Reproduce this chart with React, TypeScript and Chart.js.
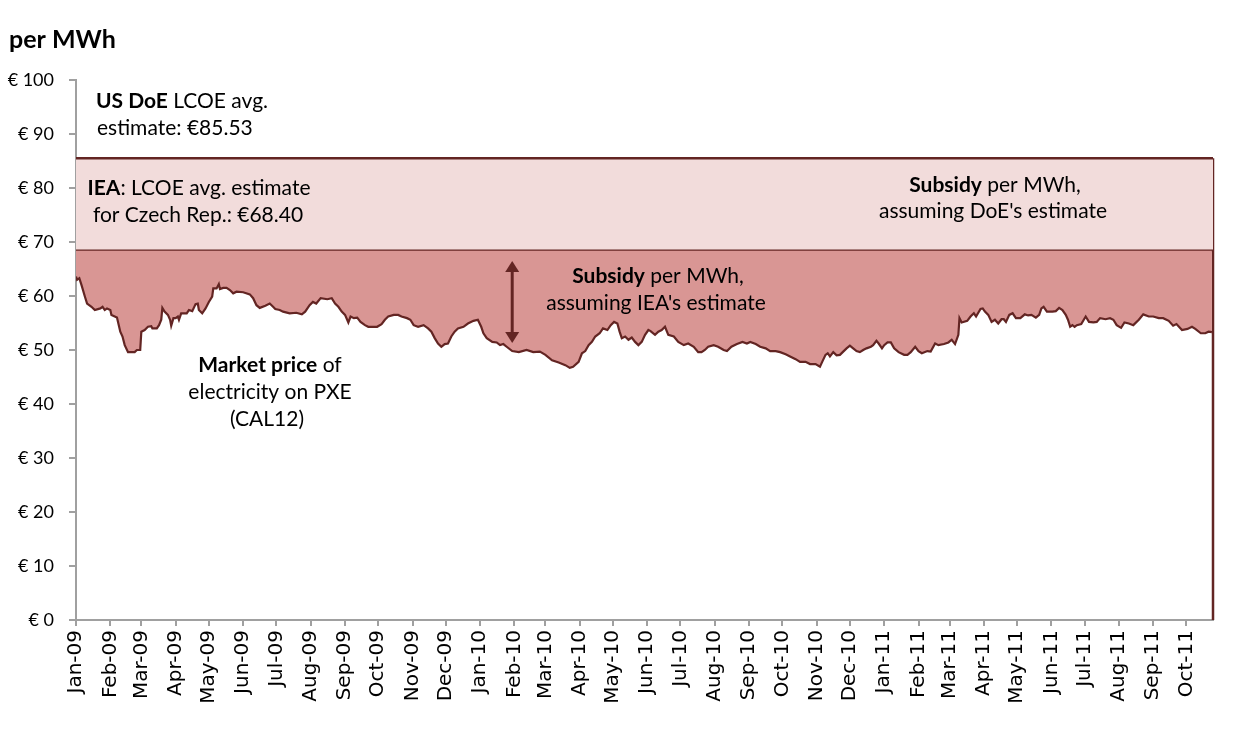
import React, { useEffect, useRef } from "react";
import { Chart, registerables } from "chart.js";

Chart.register(...registerables);

// ---------- data ----------
const monthLabels = [
  "Jan-09", "Feb-09", "Mar-09", "Apr-09", "May-09", "Jun-09", "Jul-09", "Aug-09", "Sep-09", "Oct-09", "Nov-09", "Dec-09",
  "Jan-10", "Feb-10", "Mar-10", "Apr-10", "May-10", "Jun-10", "Jul-10", "Aug-10", "Sep-10", "Oct-10", "Nov-10", "Dec-10",
  "Jan-11", "Feb-11", "Mar-11", "Apr-11", "May-11", "Jun-11", "Jul-11", "Aug-11", "Sep-11", "Oct-11",
];

// days since 1 Jan 2009
const priceDays = [
  0, 1, 3, 5, 8, 10, 14, 17, 22, 24, 26, 28, 31, 32, 37, 40, 42, 44, 47, 53, 55, 58, 59, 62, 65, 68, 69, 73, 75, 77, 78, 80,
  83, 85, 86, 88, 90, 92, 93, 95, 97, 100, 102, 105, 108, 110, 111, 114, 117, 120, 123, 124, 127, 129, 130, 133, 136, 139,
  142, 145, 151, 157, 160, 163, 166, 171, 175, 178, 180, 184, 187, 193, 199, 204, 207, 211, 214, 217, 221, 227, 231, 234,
  237, 240, 243, 246, 248, 251, 254, 257, 261, 264, 272, 276, 279, 282, 287, 291, 294, 299, 302, 305, 309, 314, 318, 321,
  324, 327, 330, 333, 336, 339, 342, 345, 350, 354, 359, 363, 366, 368, 371, 376, 380, 383, 386, 389, 394, 400, 407, 413,
  419, 424, 430, 436, 442, 446, 449, 454, 457, 460, 463, 466, 469, 473, 476, 480, 483, 486, 489, 491, 493, 496, 499, 502,
  505, 508, 511, 514, 517, 519, 523, 526, 529, 532, 535, 540, 544, 549, 553, 558, 562, 565, 568, 571, 576, 580, 585, 588,
  592, 597, 602, 606, 609, 614, 618, 623, 627, 632, 636, 641, 645, 650, 654, 659, 663, 668, 672, 674, 677, 679, 681, 684,
  687, 690, 693, 696, 699, 702, 705, 708, 711, 714, 718, 720, 723, 725, 728, 730, 733, 736, 739, 743, 748, 751, 754, 758,
  761, 764, 769, 772, 776, 779, 784, 788, 791, 794, 797, 798, 800, 805, 808, 811, 813, 817, 819, 821, 824, 827, 830, 833,
  836, 838, 840, 843, 846, 849, 853, 857, 860, 863, 867, 870, 872, 874, 877, 882, 885, 888, 891, 894, 896, 898, 900, 902,
  904, 908, 912, 915, 919, 922, 925, 930, 934, 937, 940, 944, 947, 951, 955, 960, 964, 969, 973, 978, 982, 987, 991, 994,
  999, 1004, 1008, 1011, 1016, 1020, 1023, 1026,
];

// market price of electricity on PXE (CAL12), EUR per MWh
const prices = [
  63.6, 63.0, 63.3, 62.0, 59.9, 58.6, 58.0, 57.4, 57.7, 58.0, 57.4, 57.7, 57.4, 56.5, 56.0, 53.4, 52.5, 50.9, 49.6, 49.6, 50.0, 50.0, 53.4, 53.7, 54.3, 54.4, 54.0, 54.0, 54.6, 55.6, 57.8, 57.1,
  56.5, 55.6, 54.5, 55.9, 55.9, 56.2, 55.6, 56.8, 56.8, 56.8, 57.4, 57.2, 58.5, 58.6, 57.4, 56.8, 57.7, 58.9, 59.9, 61.4, 61.4, 62.2, 61.3, 61.5, 61.5, 61.1,
  60.5, 60.8, 60.7, 60.3, 59.6, 58.3, 57.8, 58.2, 58.6, 58.0, 57.6, 57.4, 57.1, 56.8, 56.9, 56.6, 57.1, 58.3, 58.9, 58.6, 59.6, 59.4, 59.6, 58.6,
  58.0, 57.1, 56.5, 55.1, 56.2, 55.9, 56.0, 55.2, 54.6, 54.3, 54.3, 54.8, 55.6, 56.2, 56.5, 56.5, 56.2, 55.9, 55.6, 54.6, 54.3, 54.6, 54.0, 53.4,
  52.2, 51.2, 50.6, 51.1, 51.2, 52.5, 53.4, 54.0, 54.3, 54.9, 55.4, 55.6, 54.3, 53.1, 52.2, 51.5, 51.4, 50.9, 51.1, 50.6, 49.8, 49.6, 50.0, 49.6,
  49.7, 49.1, 48.1, 47.7, 47.2, 46.7, 46.9, 47.8, 49.4, 49.8, 50.9, 51.5, 52.5, 53.1, 54.0, 53.7, 54.6, 55.2, 54.9, 53.4, 52.2, 52.5, 51.9, 52.3,
  51.5, 50.9, 51.5, 52.8, 53.7, 53.5, 52.8, 53.4, 53.7, 54.3, 52.8, 52.5, 51.5, 50.9, 51.2, 50.6, 49.6, 49.6, 50.0, 50.6, 50.9, 50.6, 50.0, 49.8,
  50.6, 51.1, 51.5, 51.2, 51.5, 51.1, 50.6, 50.3, 49.8, 49.8, 49.6, 49.2, 48.8, 48.3, 47.8, 47.8, 47.4, 47.4, 46.9, 47.8, 49.1, 49.4, 48.8, 49.6,
  49.0, 49.1, 49.7, 50.3, 50.8, 50.3, 49.8, 49.6, 50.0, 50.3, 50.6, 50.9, 51.7, 51.2, 50.3, 50.9, 51.4, 51.4, 50.3, 49.6, 49.1, 49.1, 49.6, 50.6,
  49.8, 49.4, 49.8, 49.7, 51.2, 50.9, 51.1, 51.4, 51.9, 51.1, 52.8, 55.9, 55.1, 55.4, 56.2, 56.8, 56.2, 57.6, 57.7, 57.1, 56.5, 55.2, 55.6, 54.9,
  55.7, 55.7, 55.2, 56.5, 56.8, 55.9, 55.9, 56.6, 56.4, 56.5, 56.0, 56.5, 57.7, 58.0, 57.1, 57.1, 57.2, 57.8, 57.4, 56.5, 55.6, 54.3, 54.6, 54.3,
  54.6, 54.8, 56.2, 55.2, 55.1, 55.2, 55.9, 55.7, 55.9, 55.6, 54.6, 54.1, 55.1, 54.9, 54.6, 55.6, 56.6, 56.2, 56.2, 55.9, 55.9, 55.4, 54.5, 54.8,
  53.7, 53.9, 54.3, 53.9, 53.1, 53.1, 53.4, 53.3,
];

const doeEstimate = 85.53; // US DoE LCOE avg. estimate
const ieaEstimate = 68.4; // IEA LCOE avg. estimate for Czech Rep.
const axisEndDay = 1027;
const yMin = 0;
const yMax = 100;
const yStep = 10;

// IEA subsidy arrow (day, from value, to value)
const arrowDay = 394;
const arrowTop = 66.5;
const arrowBottom = 51.3;

// ---------- styles ----------
const DARK = "#632523";
const PINK = "#D99694";
const LIGHT_PINK = "#F2DCDB";
const AXIS_GREY = "#a0a0a0";
const TEXT_FONT = 'Lato, "Open Sans", sans-serif';
const TICK_FONT = '"DejaVu Sans", Verdana, sans-serif';

const DAY_MS = 86400000;
const monthStarts = monthLabels.map((_, i) => Math.round((Date.UTC(2009, i, 1) - Date.UTC(2009, 0, 1)) / DAY_MS));

type Part = [string, boolean];

function drawRich(ctx: CanvasRenderingContext2D, parts: Part[], x: number, y: number, align: "left" | "center", size: number) {
  const widths = parts.map(([t, b]) => {
    ctx.font = `${b ? "bold " : ""}${size}px ${TEXT_FONT}`;
    return ctx.measureText(t).width;
  });
  const total = widths.reduce((a, b) => a + b, 0);
  let cx = align === "center" ? x - total / 2 : x;
  ctx.textAlign = "left";
  ctx.textBaseline = "middle";
  parts.forEach(([t, b], i) => {
    ctx.font = `${b ? "bold " : ""}${size}px ${TEXT_FONT}`;
    ctx.fillText(t, cx, y);
    cx += widths[i];
  });
}

const annotationsPlugin = {
  id: "annotationsPlugin",
  afterDatasetsDraw(chart: any) {
    const ctx: CanvasRenderingContext2D = chart.ctx;
    const xs = chart.scales.x;
    const ys = chart.scales.y;
    ctx.save();

    // double arrow
    const ax = xs.getPixelForValue(arrowDay);
    const y1 = ys.getPixelForValue(arrowTop);
    const y2 = ys.getPixelForValue(arrowBottom);
    const head = 11;
    const hw = 7;
    ctx.strokeStyle = DARK;
    ctx.fillStyle = DARK;
    ctx.lineWidth = 3;
    ctx.beginPath();
    ctx.moveTo(ax, y1 + head - 1);
    ctx.lineTo(ax, y2 - head + 1);
    ctx.stroke();
    ctx.beginPath();
    ctx.moveTo(ax, y1);
    ctx.lineTo(ax - hw, y1 + head);
    ctx.lineTo(ax + hw, y1 + head);
    ctx.closePath();
    ctx.fill();
    ctx.beginPath();
    ctx.moveTo(ax, y2);
    ctx.lineTo(ax - hw, y2 - head);
    ctx.lineTo(ax + hw, y2 - head);
    ctx.closePath();
    ctx.fill();

    // texts
    ctx.fillStyle = "#000";
    const s = 21;
    drawRich(ctx, [["US DoE", true], [" LCOE avg.", false]], 96, 101, "left", s);
    drawRich(ctx, [["estimate: \u20AC85.53", false]], 97, 128, "left", s);
    drawRich(ctx, [["IEA", true], [": LCOE avg. estimate", false]], 199, 188, "center", s);
    drawRich(ctx, [["for Czech Rep.: \u20AC68.40", false]], 198, 215, "center", s);
    drawRich(ctx, [["Subsidy", true], [" per MWh,", false]], 995, 185, "center", s);
    drawRich(ctx, [["assuming DoE's estimate", false]], 993, 211, "center", s);
    drawRich(ctx, [["Subsidy", true], [" per MWh,", false]], 658, 276, "center", s);
    drawRich(ctx, [["assuming IEA's estimate", false]], 656, 303, "center", s);
    drawRich(ctx, [["Market price", true], [" of", false]], 270, 365, "center", s);
    drawRich(ctx, [["electricity on PXE", false]], 270, 392, "center", s);
    drawRich(ctx, [["(CAL12)", false]], 267, 419, "center", s);

    // unit title
    drawRich(ctx, [["per MWh", true]], 9, 40, "left", 25);
    ctx.restore();
  },
};

export default function App() {
  const canvasRef = useRef<HTMLCanvasElement | null>(null);

  useEffect(() => {
    if (!canvasRef.current) return;
    const pricePoints = priceDays.map((d, i) => ({ x: d, y: prices[i] }));

    const chart = new Chart(canvasRef.current, {
      type: "line",
      data: {
        datasets: [
          {
            label: "Market price",
            data: pricePoints,
            borderColor: DARK,
            borderWidth: 2.2,
            backgroundColor: PINK,
            fill: { value: ieaEstimate },
            pointRadius: 0,
            tension: 0,
          },
          {
            label: "IEA",
            data: [
              { x: 0, y: ieaEstimate },
              { x: axisEndDay, y: ieaEstimate },
            ],
            borderColor: DARK,
            borderWidth: 2.5,
            fill: false,
            pointRadius: 0,
          },
          {
            label: "DoE",
            data: [
              { x: 0, y: doeEstimate },
              { x: axisEndDay, y: doeEstimate },
            ],
            borderColor: DARK,
            borderWidth: 2.5,
            backgroundColor: LIGHT_PINK,
            fill: { value: ieaEstimate },
            pointRadius: 0,
          },
          {
            label: "edge",
            data: [
              { x: axisEndDay, y: yMin },
              { x: axisEndDay, y: doeEstimate },
            ],
            borderColor: DARK,
            borderWidth: 2.5,
            fill: false,
            pointRadius: 0,
            clip: false,
          },
        ],
      },
      options: {
        animation: false,
        responsive: false,
        maintainAspectRatio: false,
        layout: { padding: { left: 0, right: 22, top: 80, bottom: 0 } },
        plugins: {
          legend: { display: false },
          tooltip: { enabled: false },
          title: { display: false },
        },
        scales: {
          x: {
            type: "linear",
            min: 0,
            max: axisEndDay,
            afterBuildTicks: (scale: any) => {
              scale.ticks = monthStarts.map((v) => ({ value: v }));
            },
            afterFit: (scale: any) => {
              scale.height = 111;
            },
            grid: {
              drawOnChartArea: false,
              drawTicks: true,
              tickLength: 6,
              color: AXIS_GREY,
              lineWidth: 2,
            },
            border: { color: AXIS_GREY, width: 2 },
            ticks: {
              autoSkip: false,
              maxRotation: 90,
              minRotation: 90,
              padding: 4,
              color: "#000",
              font: { family: TICK_FONT, size: 20 },
              callback: (_v: any, i: number) => monthLabels[i],
            },
          },
          y: {
            type: "linear",
            min: yMin,
            max: yMax,
            afterFit: (scale: any) => {
              scale.width = 76;
            },
            grid: {
              drawOnChartArea: false,
              drawTicks: true,
              tickLength: 7,
              color: AXIS_GREY,
              lineWidth: 2,
            },
            border: { color: AXIS_GREY, width: 2 },
            ticks: {
              stepSize: yStep,
              padding: 15,
              color: "#000",
              font: { family: TEXT_FONT, size: 18 },
              callback: (v: any) => "\u20AC " + v,
            },
          },
        },
      },
      plugins: [annotationsPlugin],
    });
    return () => chart.destroy();
  }, []);

  return (
    <div style={{ position: "fixed", left: 0, top: 0, width: 1235, height: 731, background: "#fff" }}>
      <canvas ref={canvasRef} width={1235} height={731} style={{ display: "block" }} />
    </div>
  );
}
